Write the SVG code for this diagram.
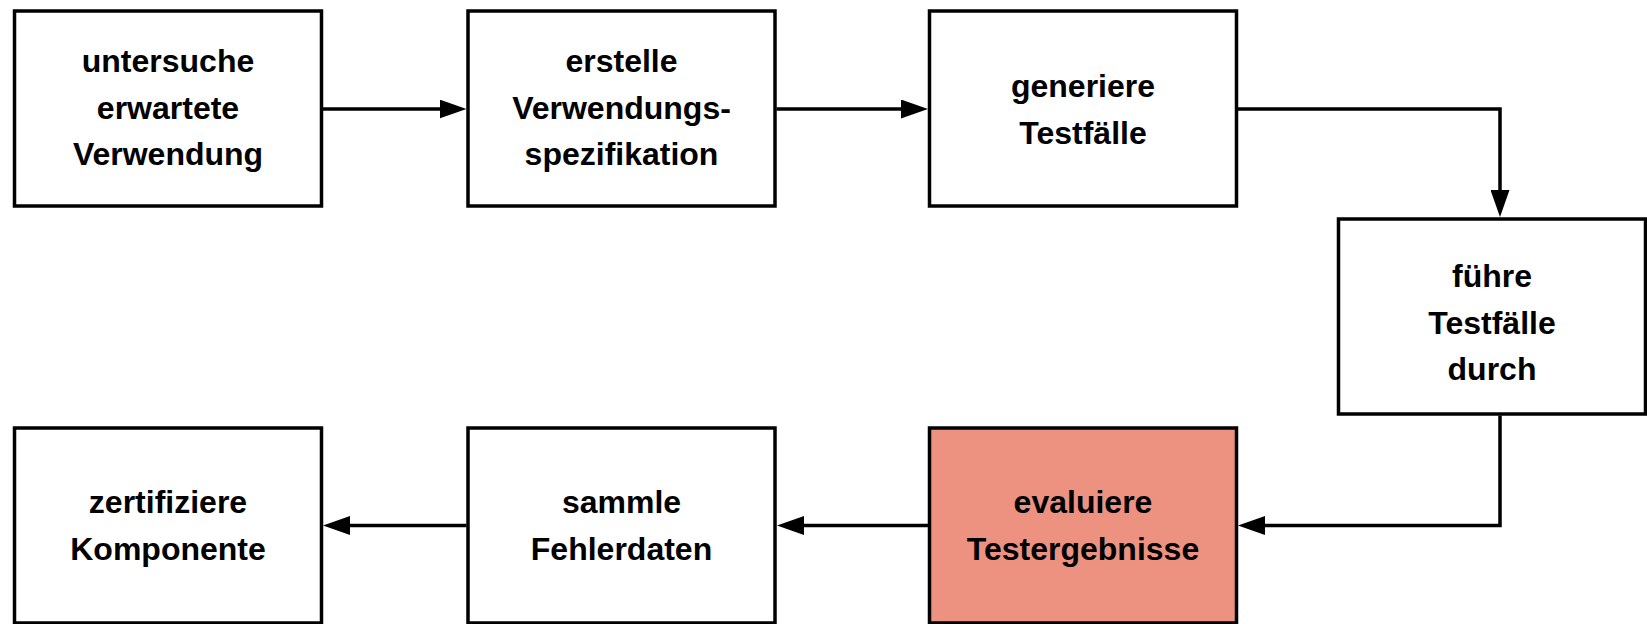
<svg xmlns="http://www.w3.org/2000/svg" width="1647" height="624" viewBox="0 0 1647 624">
<style>
.box{fill:#ffffff;stroke:#000;stroke-width:3.5}
.hl{fill:#ED9281}
.t{font-family:"Liberation Sans",Arial,Helvetica,sans-serif;font-weight:bold;font-size:32px;fill:#000;text-anchor:middle}
.c{fill:none;stroke:#000;stroke-width:3.5;marker-end:url(#ah)}
</style>
<defs>
<marker id="ah" viewBox="0 0 27 19" refX="7" refY="9.5" markerWidth="27" markerHeight="19" markerUnits="userSpaceOnUse" orient="auto">
<path d="M0,0 L27,9.5 L0,19 z" fill="#000"/>
</marker>
</defs>
<rect width="1647" height="624" fill="#fff"/>
<g id="n1"><rect class="box" x="14.5" y="11" width="307" height="195"/>
<text class="t" x="168" y="72">untersuche</text><text class="t" x="168" y="118.5">erwartete</text><text class="t" x="168" y="165">Verwendung</text></g>
<g id="n2"><rect class="box" x="468" y="11" width="307" height="195"/>
<text class="t" x="621.5" y="72">erstelle</text><text class="t" x="621.5" y="118.5">Verwendungs-</text><text class="t" x="621.5" y="165">spezifikation</text></g>
<g id="n3"><rect class="box" x="929.5" y="11" width="307" height="195"/>
<text class="t" x="1083" y="97">generiere</text><text class="t" x="1083" y="143.5">Testfälle</text></g>
<g id="n4"><rect class="box" x="1338.5" y="219" width="307" height="195"/>
<text class="t" x="1492" y="287">führe</text><text class="t" x="1492" y="333.5">Testfälle</text><text class="t" x="1492" y="380">durch</text></g>
<g id="n5"><rect class="box hl" x="929.5" y="428" width="307" height="195"/>
<text class="t" x="1083" y="513">evaluiere</text><text class="t" x="1083" y="560">Testergebnisse</text></g>
<g id="n6"><rect class="box" x="468" y="428" width="307" height="195"/>
<text class="t" x="621.5" y="513">sammle</text><text class="t" x="621.5" y="560">Fehlerdaten</text></g>
<g id="n7"><rect class="box" x="14.5" y="428" width="307" height="195"/>
<text class="t" x="168" y="513">zertifiziere</text><text class="t" x="168" y="560">Komponente</text></g>
<g id="connectors">
<path class="c" d="M323,109 H446.5"/>
<path class="c" d="M776.5,109 H908"/>
<path class="c" d="M1237.5,109 H1500 V197"/>
<path class="c" d="M1500,415.5 V525.5 H1258"/>
<path class="c" d="M928,525.5 H797"/>
<path class="c" d="M466.5,525.5 H343"/>
</g>
</svg>
